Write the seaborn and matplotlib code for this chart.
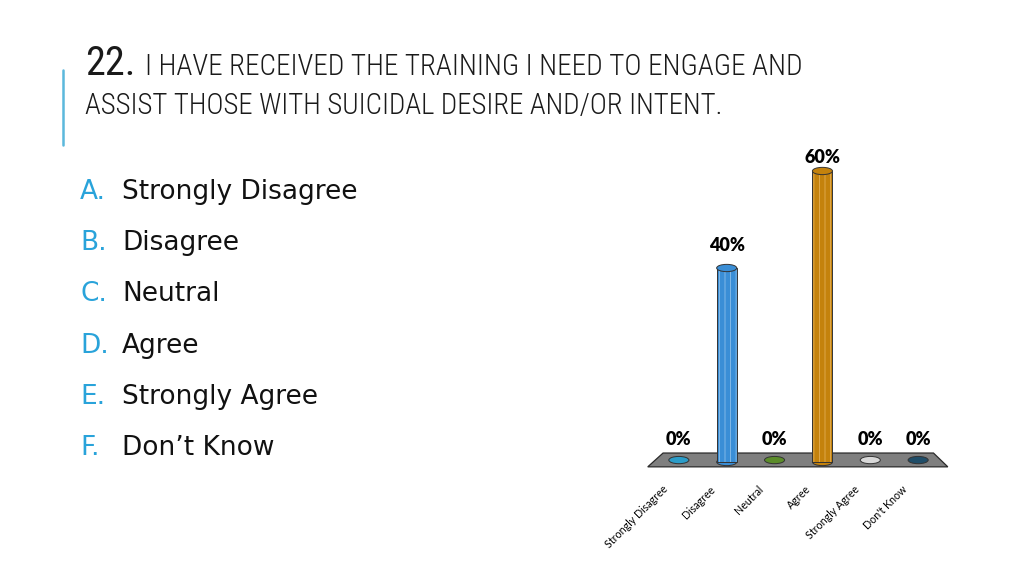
import matplotlib
matplotlib.use("Agg")
import matplotlib.pyplot as plt
import matplotlib.patches as mpatches
import matplotlib.transforms as mtrans
from matplotlib import font_manager as fm
import seaborn as sns
import pandas as pd

# ---- data ----
categories = ["Strongly Disagree", "Disagree", "Neutral", "Agree", "Strongly Agree", "Don't Know"]
values = [0, 40, 0, 60, 0, 0]
value_labels = ["0%", "40%", "0%", "60%", "0%", "0%"]
letters = ["A.", "B.", "C.", "D.", "E.", "F."]
options = ["Strongly Disagree", "Disagree", "Neutral", "Agree", "Strongly Agree", "Don\u2019t Know"]
title_num = "22."
title_line1 = "I HAVE RECEIVED THE TRAINING I NEED TO ENGAGE AND"
title_line2 = "ASSIST THOSE WITH SUICIDAL DESIRE AND/OR INTENT."

colors = ["#2B9CC8", "#3A8ED6", "#5B8C2A", "#C4820C", "#D8D8D8", "#1F4D68"]
stripe_colors = ["#7CC6E2", "#8DC0EA", "#94B86A", "#E3AE55", "#F2F2F2", "#5C8AA6"]

sns.set_theme(style="white")
plt.rcParams["font.family"] = ["DejaVu Sans"]
plt.rcParams["hatch.linewidth"] = 0.6

# pick a condensed font for the title if one is installed
title_props = dict(family=["DejaVu Sans"])
try:
    f = fm.findfont(fm.FontProperties(family="DejaVu Sans", stretch="condensed"), fallback_to_default=False)
    if "Condensed" in f:
        title_props = dict(family=["DejaVu Sans"], stretch="condensed")
except Exception:
    pass
for name in ["Liberation Sans Narrow", "Roboto Condensed", "Open Sans Condensed", "Noto Sans Condensed"]:
    if any(ff.name == name for ff in fm.fontManager.ttflist):
        title_props = dict(family=[name, "DejaVu Sans"])
        break

fig = plt.figure(figsize=(10.24, 5.76), dpi=100)
fig.patch.set_facecolor("white")
renderer = fig.canvas.get_renderer()


def fit_text(x, y, s, target_w, size, **kw):
    t = fig.text(x, y, s, fontsize=size, **kw)
    w = t.get_window_extent(renderer).width
    t.set_fontsize(size * target_w / w)
    return t


# ---- title ----
fit_text(85 / 1024, 1 - 75 / 576, title_num, 50, 26, color="#1a1a1a", va="baseline",
         ha="left", **title_props)
fit_text(145 / 1024, 1 - 75 / 576, title_line1, 658, 19, color="#1a1a1a", va="baseline",
         ha="left", fontweight="light", **title_props)
fit_text(85 / 1024, 1 - 114 / 576, title_line2, 637, 19, color="#1a1a1a", va="baseline",
         ha="left", fontweight="light", **title_props)
fig.add_artist(matplotlib.lines.Line2D([63 / 1024, 63 / 1024], [1 - 70 / 576, 1 - 145 / 576],
                                       color="#5BB8DC", lw=1.8, transform=fig.transFigure))

# ---- option list ----
for i, (l, o) in enumerate(zip(letters, options)):
    y = 1 - (192 + i * 51.2) / 576
    fig.text(80 / 1024, y, l, fontsize=19, color="#29A3DA", va="center", ha="left")
    fig.text(122 / 1024, y, o, fontsize=19, color="#111111", va="center", ha="left")

# ---- chart ----
ax = fig.add_axes([631 / 1024, 1 - 480 / 576, 335 / 1024, 340 / 576])
n = len(categories)
px_per_unit = 4.85

df = pd.DataFrame({"cat": categories, "val": values})
bw = 0.42
sns.barplot(data=df, x="cat", y="val", hue="cat", palette=colors, legend=False,
            width=bw, ax=ax, saturation=1, zorder=3)
ax.set_xlim(-1, n)
ax.set_ylim(-18 / px_per_unit, 322 / px_per_unit)

# floor
floor_h_lo, floor_h_hi = -1.0, 1.85
floor = mpatches.Polygon([(-0.65, floor_h_lo), (n - 1 + 0.62, floor_h_lo),
                          (n - 1 + 0.32, floor_h_hi), (-0.33, floor_h_hi)],
                         closed=True, facecolor="#7F7F7F", edgecolor="#2a2a2a", lw=0.9, zorder=1)
ax.add_patch(floor)

ell_h = 1.5
for p in list(ax.patches):
    if p is floor or not isinstance(p, mpatches.Rectangle):
        continue
    x0, w, h = p.get_x(), p.get_width(), p.get_height()
    cx = x0 + w / 2
    idx = int(round(cx))
    p.set_edgecolor(stripe_colors[idx])
    p.set_hatch("|||")
    p.set_linewidth(0)
    if h > 0:
        ax.add_patch(mpatches.Ellipse((cx, 0), w, ell_h, facecolor=colors[idx],
                                      edgecolor="#333333", lw=0.7, zorder=2.5))
        ax.add_patch(mpatches.Rectangle((x0, 0), w, h, facecolor="none",
                                        edgecolor="#333333", lw=0.7, zorder=3.5))
        ax.add_patch(mpatches.Ellipse((cx, h), w, ell_h, facecolor=colors[idx],
                                      edgecolor="#333333", lw=0.7, zorder=4))
    else:
        ax.add_patch(mpatches.Ellipse((cx, 0.4), w, ell_h, facecolor=colors[idx],
                                      edgecolor="#333333", lw=0.7, zorder=4))

# data labels: 14 px above the value, kept inside the plot area
label_gap = 14 / px_per_unit
label_max = ax.get_ylim()[1] - 26 / px_per_unit
for i, (v, lab) in enumerate(zip(values, value_labels)):
    ax.text(i, min(v + label_gap, label_max), lab,
            ha="center", va="bottom", fontsize=13, fontweight="heavy",
            family=["Lato", "DejaVu Sans"], color="#000000", zorder=5)

ax.set_xlabel("")
ax.set_ylabel("")
ax.set_yticks([])
ax.tick_params(axis="x", length=0, pad=2)
ax.set_xticks(range(n))
ax.set_xticklabels(categories, rotation=45, ha="right", rotation_mode="anchor",
                   fontsize=7.7, family=["Lato", "DejaVu Sans"], color="#000000")
offset = mtrans.ScaledTranslation(-17 / 100, -1 / 100, fig.dpi_scale_trans)
for lab in ax.get_xticklabels():
    lab.set_transform(lab.get_transform() + offset)
for s in ax.spines.values():
    s.set_visible(False)
ax.set_facecolor("none")
ax.grid(False)

fig.savefig("out.png", dpi=100)
